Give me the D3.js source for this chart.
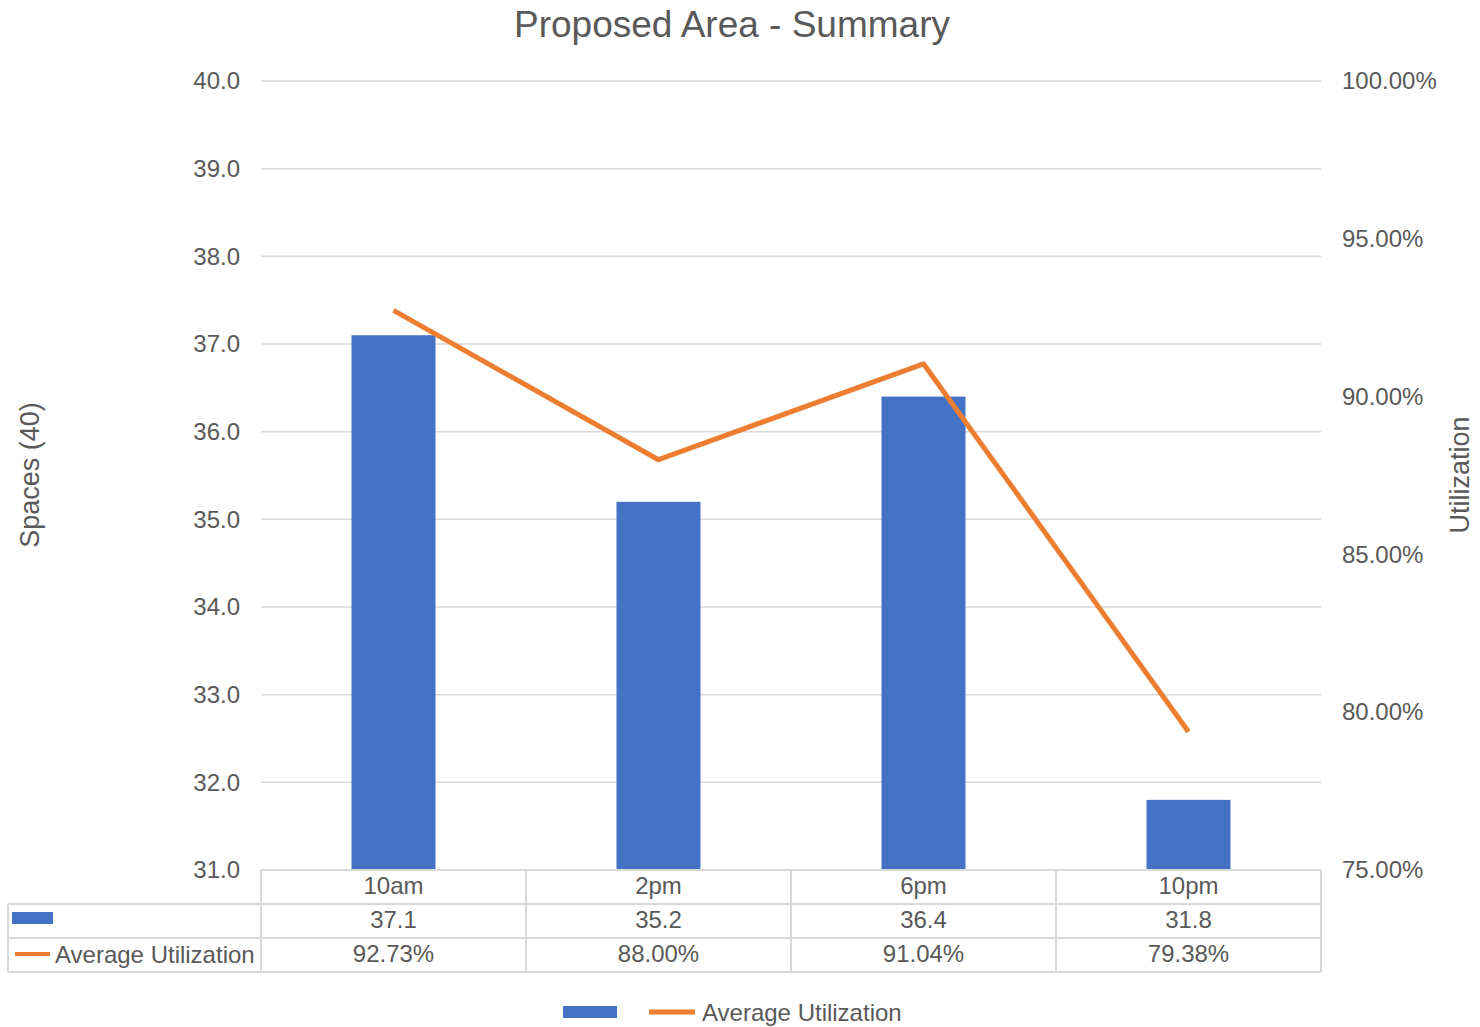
<!DOCTYPE html>
<html>
<head>
<meta charset="utf-8">
<script src="https://cdn.jsdelivr.net/npm/d3@7"></script>
<style>
  html, body { margin: 0; padding: 0; background: #fff; }
  svg { display: block; font-family: "Liberation Sans", Arial, sans-serif; }
</style>
</head>
<body>
<svg id="chart" width="1480" height="1027"></svg>
<script>
// Occupancy summary by time of day
const categories = ["10am", "2pm", "6pm", "10pm"];
const spaces = [37.1, 35.2, 36.4, 31.8];
const utilization = [0.9273, 0.88, 0.9104, 0.7938];
const utilLabels = ["92.73%", "88.00%", "91.04%", "79.38%"];
const spaceLabels = ["37.1", "35.2", "36.4", "31.8"];
const leftTicks = [31, 32, 33, 34, 35, 36, 37, 38, 39, 40];
const rightTicks = [0.75, 0.80, 0.85, 0.90, 0.95, 1.00];
const seriesName = "Average Utilization";

const BLUE = "#4472C4", ORANGE = "#ED7D31", TEXT = "#595959", GRID = "#d9d9d9";
const FS = 24;
const svg = d3.select("#chart");

const plot = { left: 261, right: 1321, top: 81, bottom: 870 };

const x = d3.scaleBand().domain(categories).range([plot.left, plot.right]);
const yL = d3.scaleLinear().domain([31, 40]).range([plot.bottom, plot.top]);
const yR = d3.scaleLinear().domain([0.75, 1.0]).range([plot.bottom, plot.top]);

// Title
svg.append("text").attr("x", 732).attr("y", 37)
  .attr("text-anchor", "middle").attr("font-size", 37).attr("fill", TEXT)
  .text("Proposed Area - Summary");

// Gridlines
svg.append("g").selectAll("line").data(leftTicks.slice(1)).join("line")
  .attr("x1", plot.left).attr("x2", plot.right)
  .attr("y1", d => yL(d)).attr("y2", d => yL(d))
  .attr("stroke", GRID).attr("stroke-width", 1.5);

// Left axis
const leftAxis = svg.append("g").attr("transform", `translate(${plot.left},0)`)
  .call(d3.axisLeft(yL).tickValues(leftTicks).tickFormat(d3.format(".1f")).tickSize(0).tickPadding(21));
leftAxis.select(".domain").remove();
leftAxis.selectAll("text").attr("font-size", FS).attr("fill", TEXT)
  .attr("font-family", "Liberation Sans, Arial, sans-serif");

// Right axis
const rightAxis = svg.append("g").attr("transform", `translate(${plot.right},0)`)
  .call(d3.axisRight(yR).tickValues(rightTicks).tickFormat(d3.format(".2%")).tickSize(0).tickPadding(21));
rightAxis.select(".domain").remove();
rightAxis.selectAll("text").attr("font-size", FS).attr("fill", TEXT)
  .attr("font-family", "Liberation Sans, Arial, sans-serif");

// Axis titles
svg.append("text").attr("transform", "translate(39,475) rotate(-90)")
  .attr("text-anchor", "middle").attr("font-size", 27).attr("fill", TEXT)
  .text("Spaces (40)");
svg.append("text").attr("transform", "translate(1469,475) rotate(-90)")
  .attr("text-anchor", "middle").attr("font-size", 27).attr("fill", TEXT)
  .text("Utilization");

// Bars
const barW = 84;
svg.append("g").selectAll("rect").data(spaces).join("rect")
  .attr("x", (d, i) => x(categories[i]) + x.bandwidth() / 2 - barW / 2)
  .attr("width", barW)
  .attr("y", d => yL(d))
  .attr("height", d => yL(31) - yL(d))
  .attr("fill", BLUE);

// Utilization line
const line = d3.line()
  .x((d, i) => x(categories[i]) + x.bandwidth() / 2)
  .y(d => yR(d));
svg.append("path").datum(utilization)
  .attr("d", line).attr("fill", "none")
  .attr("stroke", ORANGE).attr("stroke-width", 5).attr("stroke-linejoin", "round");

// Data table below the plot
const rowH = 34;
const rows = [plot.bottom, plot.bottom + rowH, plot.bottom + 2 * rowH, plot.bottom + 3 * rowH];
const tableLeft = 8;
const tg = svg.append("g").attr("stroke", GRID).attr("stroke-width", 2).attr("fill", "none");
// horizontal rules
tg.append("line").attr("x1", plot.left).attr("x2", plot.right).attr("y1", rows[0]).attr("y2", rows[0]);
[rows[1], rows[2], rows[3]].forEach(yy =>
  tg.append("line").attr("x1", tableLeft).attr("x2", plot.right).attr("y1", yy).attr("y2", yy));
// vertical rules
tg.append("line").attr("x1", tableLeft).attr("x2", tableLeft).attr("y1", rows[1]).attr("y2", rows[3]);
categories.forEach(c =>
  tg.append("line").attr("x1", x(c)).attr("x2", x(c)).attr("y1", rows[0]).attr("y2", rows[3]));
tg.append("line").attr("x1", plot.right).attr("x2", plot.right).attr("y1", rows[0]).attr("y2", rows[3]);

const cellText = (arr, r) => svg.append("g").selectAll("text").data(arr).join("text")
  .attr("x", (d, i) => x(categories[i]) + x.bandwidth() / 2)
  .attr("y", rows[r] + rowH / 2 + 7)
  .attr("text-anchor", "middle").attr("font-size", FS).attr("fill", TEXT)
  .text(d => d);
cellText(categories, 0);
cellText(spaceLabels, 1);
cellText(utilLabels, 2);

// Table row keys
svg.append("rect").attr("x", 12).attr("y", 912).attr("width", 41).attr("height", 12).attr("fill", BLUE);
svg.append("line").attr("x1", 15).attr("x2", 50).attr("y1", 954).attr("y2", 954)
  .attr("stroke", ORANGE).attr("stroke-width", 4);
svg.append("text").attr("x", 55).attr("y", rows[2] + rowH / 2 + 8)
  .attr("font-size", FS).attr("fill", TEXT).text(seriesName);

// Legend
svg.append("rect").attr("x", 563).attr("y", 1006).attr("width", 54).attr("height", 12).attr("fill", BLUE);
svg.append("line").attr("x1", 649).attr("x2", 695).attr("y1", 1012).attr("y2", 1012)
  .attr("stroke", ORANGE).attr("stroke-width", 5);
svg.append("text").attr("x", 702).attr("y", 1021)
  .attr("font-size", FS).attr("fill", TEXT).text(seriesName);
</script>
</body>
</html>
